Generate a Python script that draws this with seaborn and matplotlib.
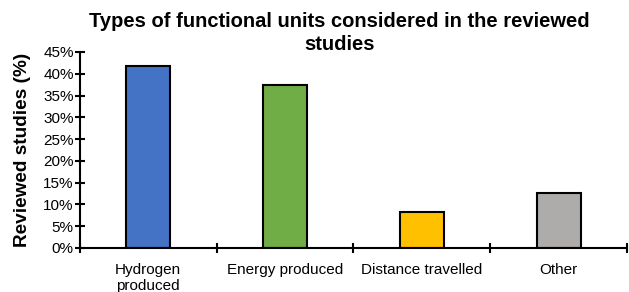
import matplotlib
matplotlib.use("Agg")
import matplotlib.pyplot as plt
import seaborn as sns
import pandas as pd
from matplotlib.ticker import PercentFormatter, FixedLocator

categories = ["Hydrogen\nproduced", "Energy produced", "Distance travelled", "Other"]
shares = [41.7, 37.5, 8.3, 12.5]
bar_colors = ["#4472C4", "#70AD47", "#FFC000", "#AEABAB"]
y_ticks = [0, 5, 10, 15, 20, 25, 30, 35, 40, 45]

sns.set_style("white")
plt.rcParams["font.family"] = ["Liberation Sans", "DejaVu Sans"]
plt.rcParams["text.color"] = "black"
plt.rcParams["xtick.color"] = "black"
plt.rcParams["ytick.color"] = "black"
plt.rcParams["axes.labelcolor"] = "black"

df = pd.DataFrame({"unit": categories, "share": shares})

fig = plt.figure(figsize=(6.29, 2.92), dpi=100)
ax = fig.add_axes([0.127, 0.151, 0.870, 0.671])
sns.barplot(data=df, x="unit", y="share", hue="unit", palette=bar_colors,
            legend=False, width=0.32, edgecolor="black", linewidth=1.5,
            saturation=1, ax=ax)

ax.set_xlim(-0.5, 3.5)
ax.set_ylim(0, 45)
ax.yaxis.set_major_locator(FixedLocator(y_ticks))
ax.yaxis.set_major_formatter(PercentFormatter(decimals=0))
ax.tick_params(axis="y", direction="inout", length=7, width=1.5, labelsize=11, pad=1, left=True)

ax.xaxis.set_major_locator(FixedLocator([-0.5, 0.5, 1.5, 2.5, 3.5]))
ax.xaxis.set_minor_locator(FixedLocator([0, 1, 2, 3]))
ax.set_xticklabels([], minor=False)
ax.set_xticklabels(categories, minor=True)
ax.tick_params(axis="x", which="major", direction="inout", length=7, width=1.5, bottom=True)
ax.tick_params(axis="x", which="minor", length=0, labelsize=11, pad=11)

for s in ["top", "right"]:
    ax.spines[s].set_visible(False)
for s in ["left", "bottom"]:
    ax.spines[s].set_linewidth(1.5)
    ax.spines[s].set_color("black")

ax.set_xlabel("")
ax.set_ylabel("Reviewed studies (%)", fontsize=13.7, fontweight="bold")
ax.yaxis.set_label_coords(-0.09, 0.5)

fig.text(0.540, 0.928, "Types of functional units considered in the reviewed",
         ha="center", va="center", fontsize=14.5, fontweight="bold")
fig.text(0.540, 0.846, "studies", ha="center", va="center", fontsize=14.5, fontweight="bold")

fig.savefig("out.png", dpi=100)
plt.close(fig)
